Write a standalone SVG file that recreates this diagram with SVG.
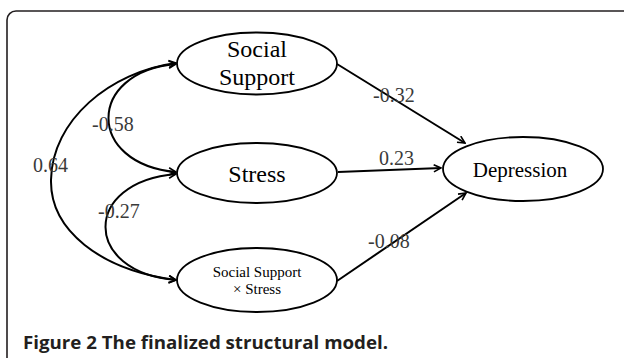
<svg xmlns="http://www.w3.org/2000/svg" width="624" height="358" viewBox="0 0 624 358">
<style>
.frame{fill:#fff;stroke:#231f20;stroke-width:1.6}
.node{fill:#fff;stroke:#000;stroke-width:1.8}
.lbl{font-family:"Liberation Serif","Times New Roman",serif;fill:#000;text-anchor:middle}
.coef{font-family:"Liberation Serif","Times New Roman",serif;font-size:20px;fill:#3a3a3a}
.edge{fill:none;stroke:#000;stroke-width:2}
.cap{font-family:"Open Sans","DejaVu Sans",sans-serif;font-weight:bold;font-size:18px;fill:#231f20}
</style>
<defs>
<marker id="ah" viewBox="0 0 10 10" refX="9" refY="5" markerWidth="9" markerHeight="9" markerUnits="userSpaceOnUse" orient="auto-start-reverse">
<path d="M1,1 L9,5 L1,9" fill="none" stroke="#000" stroke-width="1.8" stroke-linejoin="miter"/>
</marker>
</defs>
<rect class="frame" x="7" y="11" width="640" height="370" rx="9"/>
<g id="connectors">
<path class="edge" d="M337,64 L465,143" marker-end="url(#ah)"/>
<path class="edge" d="M338,172 L441,168" marker-end="url(#ah)"/>
<path class="edge" d="M337,281 L466,193" marker-end="url(#ah)"/>
<path class="edge" d="M176,63 C 110,72 52,120 51,180 C 50,230 100,270 176,280" marker-start="url(#ah)" marker-end="url(#ah)"/>
<path class="edge" d="M176,64 C 86,72 86,164 176,172" marker-start="url(#ah)" marker-end="url(#ah)"/>
<path class="edge" d="M176,174 C 82,182 82,272 176,280" marker-start="url(#ah)" marker-end="url(#ah)"/>
<text class="coef" x="373" y="102">-0.32</text>
<text class="coef" x="379" y="165">0.23</text>
<text class="coef" x="368" y="248">-0.08</text>
<text class="coef" x="92" y="131">-0.58</text>
<text class="coef" x="33" y="172">0.64</text>
<text class="coef" x="98" y="218">-0.27</text>
</g>
<g id="social-support">
<ellipse class="node" cx="257" cy="63.5" rx="80" ry="31"/>
<text class="lbl" x="257" y="57" font-size="24">Social</text>
<text class="lbl" x="257" y="85" font-size="24">Support</text>
</g>
<g id="stress">
<ellipse class="node" cx="257" cy="173" rx="80" ry="30"/>
<text class="lbl" x="257" y="182" font-size="24">Stress</text>
</g>
<g id="interaction">
<ellipse class="node" cx="257" cy="280" rx="80" ry="32"/>
<text class="lbl" x="257" y="277" font-size="15">Social Support</text>
<text class="lbl" x="257" y="294" font-size="15">× Stress</text>
</g>
<g id="depression">
<ellipse class="node" cx="523" cy="169" rx="80" ry="32"/>
<text class="lbl" x="520" y="177" font-size="21">Depression</text>
</g>
<text class="cap" x="23" y="349" textLength="365" lengthAdjust="spacingAndGlyphs">Figure 2 The finalized structural model.</text>
</svg>
